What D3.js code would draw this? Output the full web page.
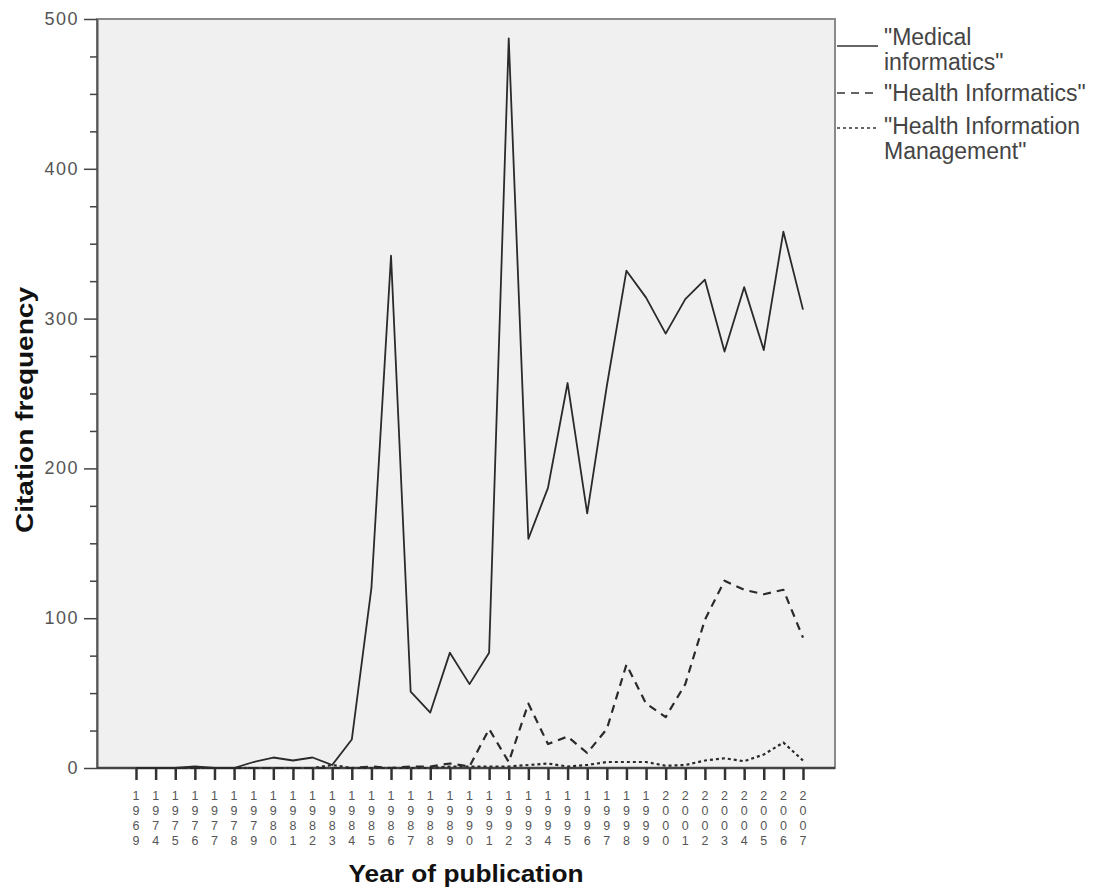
<!DOCTYPE html>
<html>

<head>
    <meta charset="UTF-8">
    <title>Citation frequency</title>
    <style>
        html,
        body {
            margin: 0;
            background: #fff;
        }

        svg {
            display: block;
        }

        text {
            font-family: "Liberation Sans", Arial, sans-serif;
        }
    </style>
</head>

<body>
    <svg width="1101" height="890"></svg>

    <script src="https://d3js.org/d3.v7.min.js"></script>
    <script>
// data
var years = ["1969", "1974", "1975", "1976", "1977", "1978", "1979", "1980", "1981", "1982",
    "1983", "1984", "1985", "1986", "1987", "1988", "1989", "1990", "1991", "1992",
    "1993", "1994", "1995", "1996", "1997", "1998", "1999", "2000", "2001", "2002",
    "2003", "2004", "2005", "2006", "2007"];
var medical = [0, 0, 0, 1, 0, 0, 4, 7, 5, 7, 2, 19, 120, 342, 51, 37, 77, 56, 77, 487,
    153, 187, 257, 170, 255, 332, 314, 290, 313, 326, 278, 321, 279, 358, 306];
var healthInf = [0, 0, 0, 0, 0, 0, 0, 0, 0, 0, 0, 0, 1, 0, 1, 1, 3, 1, 26, 4,
    43, 16, 21, 10, 26, 69, 43, 34, 56, 99, 125, 119, 116, 119, 87];
var him = [0, 0, 0, 0, 0, 0, 0, 0, 0, 0, 2, 0, 0, 0, 0, 0, 1, 1, 1, 1,
    2, 3, 1, 2, 4, 4, 4, 1.5, 2, 5, 6.5, 4.5, 9, 17, 5];
var yTicks = [0, 100, 200, 300, 400, 500];
var seriesNames = [["\"Medical", "informatics\""], ["\"Health Informatics\""], ["\"Health Information", "Management\""]];

// plot box
var pLeft = 97, pRight = 835, pTop = 19, pBottom = 768;

var svg = d3.select("svg");

var x = d3.scalePoint().domain(years).range([136, 803]);
var y = d3.scaleLinear().domain([0, 500]).range([pBottom, pTop]);

svg.append("rect")
    .attr("x", pLeft).attr("y", pTop)
    .attr("width", pRight - pLeft).attr("height", pBottom - pTop)
    .attr("fill", "#f0f0f0")
    .attr("stroke", "#8a8a8a")
    .attr("stroke-width", 2);

// y axis
var yAxis = svg.append("g")
    .attr("transform", "translate(" + pLeft + ",0)")
    .call(d3.axisLeft(y).tickValues(d3.range(0, 501, 25)).tickSize(7).tickSizeOuter(0).tickFormat(""));
yAxis.select(".domain").attr("stroke", "#555").attr("stroke-width", 2);
yAxis.selectAll(".tick line").attr("stroke", "#444").attr("stroke-width", 1.5);
yAxis.selectAll(".tick line").filter(function (d) { return d % 100 === 0; }).attr("x2", -13);

svg.append("g").selectAll("text")
    .data(yTicks)
    .enter()
    .append("text")
    .attr("x", 79)
    .attr("y", function (d) { return y(d) + 6; })
    .attr("text-anchor", "end")
    .attr("font-size", 18)
    .attr("letter-spacing", 1.5)
    .attr("fill", "#555")
    .text(function (d) { return d; });

// x axis
var xAxis = svg.append("g")
    .attr("transform", "translate(0," + pBottom + ")")
    .call(d3.axisBottom(x).tickSize(12).tickSizeOuter(0).tickFormat(""));
xAxis.select(".domain").attr("d", "M" + pLeft + ",0H" + pRight).attr("stroke", "#444").attr("stroke-width", 2.5);
xAxis.selectAll(".tick line").attr("stroke", "#333").attr("stroke-width", 2.5);

// vertical stacked year labels
var xl = svg.append("g").selectAll("text")
    .data(years)
    .enter()
    .append("text")
    .attr("font-size", 12.5)
    .attr("fill", "#555")
    .attr("text-anchor", "middle");
xl.selectAll("tspan")
    .data(function (d) { return d.split("").map(function (c) { return { c: c, yr: d }; }); })
    .enter()
    .append("tspan")
    .attr("x", function (d) { return x(d.yr); })
    .attr("y", function (d, i) { return 800 + i * 15; })
    .text(function (d) { return d.c; });

// lines
var line = d3.line()
    .x(function (d, i) { return x(years[i]); })
    .y(function (d) { return y(d); });

var styles = [
    { data: medical, dash: null, w: 1.8 },
    { data: healthInf, dash: "8,6", w: 2.2 },
    { data: him, dash: "3,3", w: 2.2 }
];

styles.forEach(function (s) {
    svg.append("path")
        .datum(s.data)
        .attr("d", line)
        .attr("fill", "none")
        .attr("stroke", "#2a2a2a")
        .attr("stroke-width", s.w)
        .attr("stroke-dasharray", s.dash)
        .attr("stroke-linejoin", "round");
});

// legend
var legY = [46, 93, 128];
var textY = [[45, 70], [101], [134, 159]];
styles.forEach(function (s, k) {
    svg.append("line")
        .attr("x1", 837).attr("x2", 878)
        .attr("y1", legY[k]).attr("y2", legY[k])
        .attr("stroke", "#333")
        .attr("stroke-width", 1.6)
        .attr("stroke-dasharray", s.dash);
    seriesNames[k].forEach(function (t, j) {
        svg.append("text")
            .attr("x", 884)
            .attr("y", textY[k][j])
            .attr("font-size", 23)
            .attr("fill", "#444")
            .text(t);
    });
});

// axis titles
svg.append("text")
    .attr("x", 466).attr("y", 882)
    .attr("text-anchor", "middle")
    .attr("font-size", 23)
    .attr("font-weight", "bold")
    .attr("textLength", 235)
    .attr("lengthAdjust", "spacingAndGlyphs")
    .attr("fill", "#111")
    .text("Year of publication");

svg.append("text")
    .attr("transform", "translate(33,410) rotate(-90)")
    .attr("text-anchor", "middle")
    .attr("font-size", 23)
    .attr("font-weight", "bold")
    .attr("textLength", 246)
    .attr("lengthAdjust", "spacingAndGlyphs")
    .attr("fill", "#111")
    .text("Citation frequency");
    </script>
</body>

</html>
